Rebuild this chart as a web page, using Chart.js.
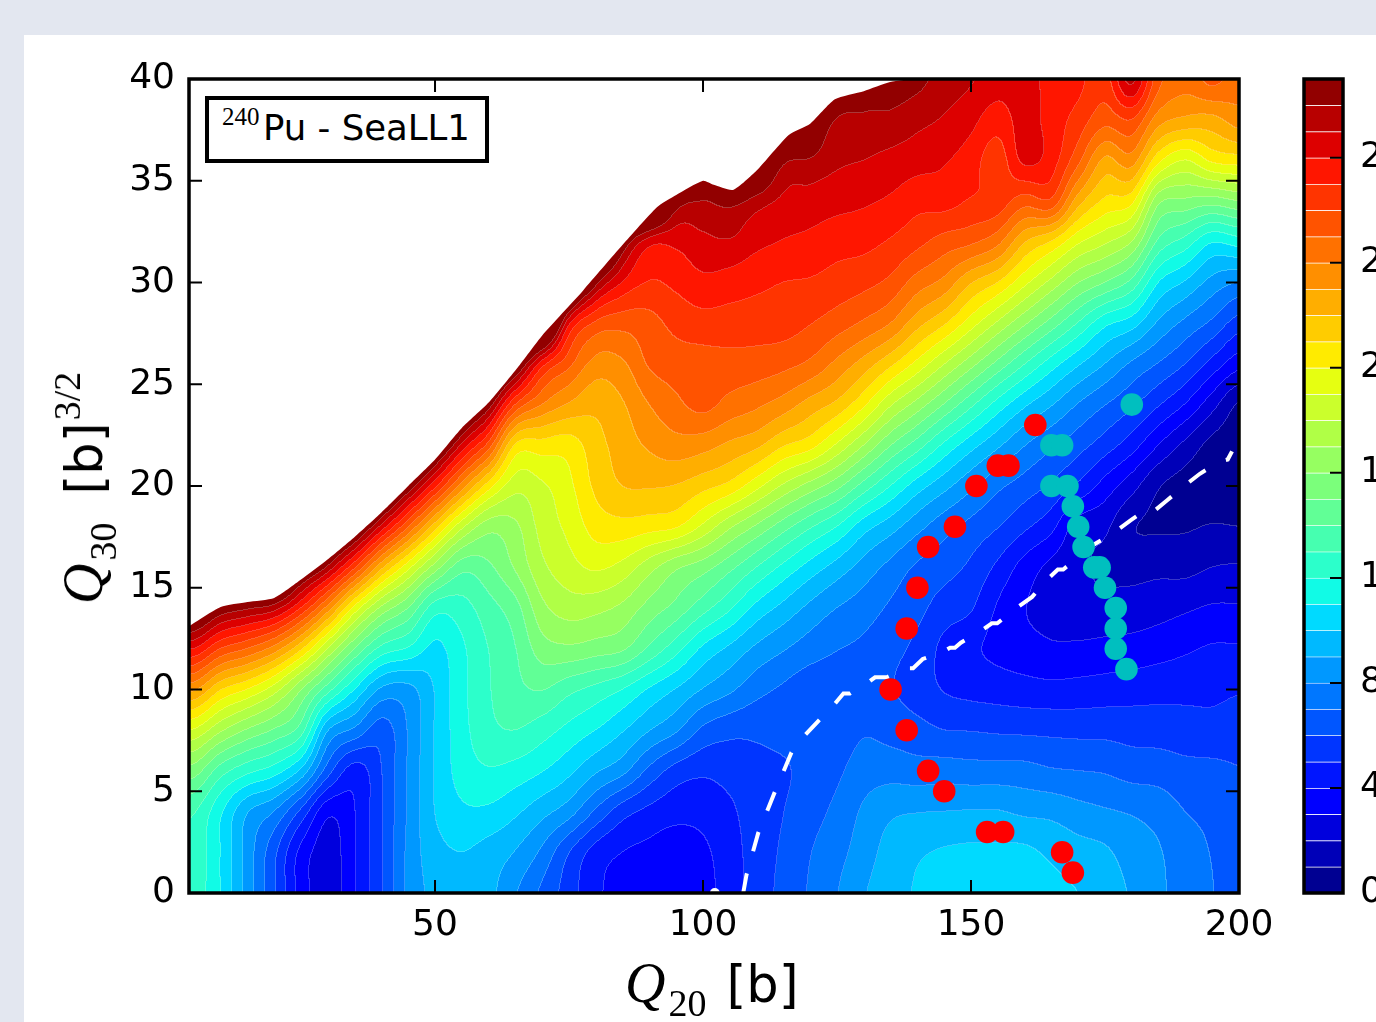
<!DOCTYPE html>
<html>
<head>
<meta charset="utf-8">
<title>240Pu - SeaLL1</title>
<script src="https://cdn.jsdelivr.net/npm/chart.js@4"></script>
<style>
  html, body { margin: 0; padding: 0; width: 1376px; height: 1022px; overflow: hidden; background: #e3e7f0; }
  #panel { position: absolute; left: 24px; top: 35px; right: 0; bottom: 0; background: #fff; }
  canvas { position: absolute; top: 0; }
  #main { left: 0; }
  #bar { left: 1290px; }
  .label { position: absolute; white-space: nowrap; color: #000; font-family: "DejaVu Sans"; line-height: 1; }
  .math { font-family: "Liberation Serif"; }
  .q { font-style: italic; font-size: 56px; }
  .sub { font-size: 38px; position: relative; top: 14px; margin-left: 3px; margin-right: 20px; }
  .sup { font-size: 38px; position: relative; top: -22px; margin-left: 2px; }
  #xlabel { left: 625px; top: 955px; font-size: 51px; }
  #ylabel { left: 83px; top: 488px; font-size: 51px; transform: translate(-50%, -50%) rotate(-90deg); }
  #ylabel .sub { margin-right: 28px; }
  #tag { left: 205px; top: 96px; width: 276px; height: 59px; border: 4px solid #000; background: #fff; }
  #tag .txt { position: absolute; left: 54px; top: 10px; font-size: 35.5px; }
  #tag .mass { position: absolute; left: 13px; top: 4px; font-size: 25px; }
</style>
</head>
<body>
<div id="panel"></div>
<canvas id="main" width="1376" height="1022"></canvas>
<canvas id="bar" width="200" height="1022"></canvas>
<div class="label" id="tag"><span class="mass math">240</span><span class="txt">Pu - SeaLL1</span></div>
<div class="label" id="xlabel"><span class="math q">Q</span><span class="math sub">20</span>[b]</div>
<div class="label" id="ylabel"><span class="math q">Q</span><span class="math sub">30</span>[b]<span class="math sup">3/2</span></div>
<script>
const xTicks = [50, 100, 150, 200];
const yTicks = [0, 5, 10, 15, 20, 25, 30, 35, 40];
const barTicks = [0, 4, 8, 12, 16, 20, 24, 28];

// energy, one row per Q20 (5..200), values at Q30 = 0,2,...,40
const q20Grid = [5,10,15,20,25,30,35,40,45,50,55,60,65,70,75,80,85,90,95,100,105,110,115,120,125,130,135,140,145,150,155,160,165,170,175,180,185,190,195,200];
const q30Grid = [0,2,4,6,8,10,12,14,16,18,20,22,24,26,28,30,32,34,36,38,40];
const energy = [
  [12.6,12.7,13.1,15.5,18.9,23.2,28,33,39,44,44,44,44,44,44,44,44,44,44,44,44],
  [11,11,11.2,13.5,17.2,21.1,26,31,37,44,44,44,44,44,44,44,44,44,44,44,44],
  [8.6,8.6,9.1,12.3,15.9,20,25,30.2,36,44,44,44,44,44,44,44,44,44,44,44,44],
  [6.2,6.3,8,11.5,14.9,18.5,23.6,29.5,36,44,44,44,44,44,44,44,44,44,44,44,44],
  [3.6,3.75,5.8,9.8,13.5,16.1,21.2,27,33,44,44,44,44,44,44,44,44,44,44,44,44],
  [2.4,2.5,3.3,6.5,9.1,13.45,18,23.6,29.8,36,44,44,44,44,44,44,44,44,44,44,44],
  [3.9,3.9,3.95,4.55,7.8,11,15,19.7,26.2,32.6,39,44,44,44,44,44,44,44,44,44,44],
  [5.9,5.9,5.9,5.95,6.5,8.85,12.7,16.8,22.3,28.7,35.2,44,44,44,44,44,44,44,44,44,44],
  [8.2,8.2,8.1,8.1,8.05,8.7,11.9,15,19.35,25.1,31,37,44,44,44,44,44,44,44,44,44],
  [9.3,9.6,10,10.05,10.05,10.05,10.75,12.5,16.55,21.5,27.3,33,40,44,44,44,44,44,44,44,44],
  [9.7,10,10.8,11.4,11.6,11.7,11.8,12.6,14.4,18.3,23.6,28.8,34,40,44,44,44,44,44,44,44],
  [9.3,9.6,10.8,11.9,12.7,12.9,13,13.6,14.8,16.45,20.5,25.6,30.7,36,44,44,44,44,44,44,44],
  [8.1,8.95,10.2,11.6,13,13.7,13.95,14.6,16.1,16.8,18.4,20.9,26,32,38,44,44,44,44,44,44],
  [6.8,7.8,9.35,11.05,12.45,14.05,15.5,16.7,17.75,18.35,18.85,20.6,24,27.5,36,44,44,44,44,44,44],
  [5.5,6.05,8.45,10.25,11.7,13.3,15.8,17.45,18.6,19.25,19.75,20.5,22.9,25.3,28.3,36,44,44,44,44,44],
  [4.2,4.6,6.85,9.15,11,12.7,15.5,17.3,19.15,20.4,21.2,21.6,22.3,23.65,25.85,30.5,37,44,44,44,44],
  [3.7,4,5.45,8.3,10.1,12,15.15,16.75,18.65,20.65,22,22.45,22.9,23.85,25.4,27.95,31.2,37,44,44,44],
  [3.5,3.75,4.75,6.75,9.05,10.9,13.8,15.6,17.4,20.4,22.1,23.15,24,25.1,25.65,26.95,28.5,36,44,44,44],
  [3.4,3.5,4.35,5.6,8.15,9.95,12.4,14.65,16.2,20.1,21.95,23.6,24.75,25.5,26.3,27.25,28.3,31,38,44,44],
  [3.6,3.8,4.35,5.2,6.8,8.95,10.8,13.4,15.45,18.8,21.35,23.4,25.3,25.6,26.6,27.75,28.75,30,33,40,44],
  [4.5,4.55,4.8,5.4,6.3,8.2,9.8,12.15,14.3,17.2,20.7,22.8,24.65,25.65,26.55,27.55,28.9,30.5,36,40,44],
  [5.4,5.45,5.55,5.75,6.2,7.35,8.8,10.7,13,15.85,19.35,22.25,24.2,25.55,26.5,27.25,28.3,29.6,34,40,44],
  [6.3,6.15,5.98,5.9,6.3,6.85,8.1,9.7,11.75,14.45,17.85,21.1,23.55,25.3,26.45,27,27.95,28.8,30.4,36,40],
  [7.1,6.95,6.6,6.3,6.3,6.4,7.5,8.75,10.6,13.15,16.6,20.4,22.6,24.8,26.05,26.9,27.75,28.6,29.9,33,40],
  [7.95,7.65,7.25,6.8,6.4,6.4,7.05,8,9.6,12,15.35,18.85,21.75,23.75,25.5,26.6,27.4,28.35,29.2,29.9,34],
  [8.9,8.5,8.15,7.5,6.9,6.65,6.8,7.5,8.6,10.45,13.6,17,20.2,22.6,24.85,26.3,27.3,28.15,29,29.8,31],
  [9.6,9.4,8.8,7.6,6.65,6.1,6.3,6.85,7.7,9.45,12,15.05,18.15,21.25,24,25.75,26.9,27.85,28.7,29.75,30.7],
  [10.1,9.85,8.95,7.45,6.35,5.55,5.75,6.3,6.85,8.35,10.5,13.5,16.6,19.7,22.4,24.55,26.3,27.35,28.4,29.3,30.3],
  [10.5,10.1,9,7.5,6,4.95,4.75,5.55,6.4,7.4,9.35,11.8,14.95,18.05,21.15,23.7,25.6,27.4,28.1,28.9,29.6],
  [10.6,10.2,9.05,7.4,5.95,4.7,4.2,5.1,5.8,6.7,8.25,10.4,13.25,16.4,19.5,22.1,25.2,26.9,27.5,28.3,29.1],
  [10.6,10.2,9.05,7.4,5.85,4.55,3.75,3.9,4.8,6.05,7.25,9.2,11.6,14.7,17.85,21,24.3,26.6,26.5,27.5,28.5],
  [10.55,10.2,8.8,7.35,5.8,4.4,3.4,3.05,3.6,5.2,6.55,8.05,10.2,13.05,16.2,19.3,22.1,25.5,28.2,28.4,28.4],
  [10.3,9.8,8.7,7.1,5.75,4.3,3.15,2.7,2.75,4.3,5.85,7.2,9.1,11.5,14.6,17.7,20.95,25.8,27.5,27.6,27.7],
  [10,9.4,8.35,7,5.7,4.35,3.2,2.3,2.2,2.55,4.85,6.4,7.95,10.15,12.95,16.05,19.2,22.5,25.3,26.6,27.3],
  [9.5,9.15,8.1,6.9,5.7,4.45,3.3,2.35,1.85,2.2,3.6,5.5,7.05,9,11.3,15,18.2,20.8,22.8,25.4,26.5],
  [8.9,8.55,7.9,6.6,5.6,4.55,3.4,2.4,1.7,1.1,2.4,4.45,6.2,7.85,10.5,13.7,17,20.3,23.5,26,29.3],
  [8.2,8.1,7.6,6.55,5.55,4.65,3.6,2.6,1.75,.9,1.1,3,5.1,6.95,8.85,11,13.8,16.3,20.3,23.5,25.4],
  [7.6,7.4,7,6.3,5.45,4.7,3.85,2.85,1.7,.9,.6,1.75,3.95,6,7.75,9.9,12.6,15.8,19,22.8,24.4],
  [7.05,6.95,6.75,6.25,5.35,4.75,4.1,3.1,2,1.05,.5,.7,2.4,4.65,6.8,8.65,11.1,15.5,20.2,22.7,25.3],
  [6.4,6.35,6.3,6.05,5.5,4.9,4.1,3.1,2.1,1,.7,.5,.9,3.4,5.55,8,11.5,16,20.5,23.5,24.4]
];

// upper edge of the calculated region
const edgeX = [4.1,10,15,20,25,30,35,40,45,50,55,60,65.8,70,77.6,85,91.4,95,100,102,105.6,110,116,120,124.6,130,134.9,140,200];
const edgeY = [13.1,14.05,14.3,14.5,15.4,16.4,17.5,18.7,20,21.3,22.85,24.1,25.95,27.4,29.6,31.85,33.7,34.3,35,34.8,34.55,35.5,37.25,37.8,39,39.4,39.85,40,40];

// dashed least-energy path
const pathX = [107.5,108.1,110.3,113.3,116.5,119,121.5,124.6,126.2,127.4,130.8,132.1,134.3,138,139.2,141,144.8,146.1,147,148.1,151.7,153.9,154.9,158.2,161.4,164.2,166.2,167.2,172.8,176.9,179.7,183,184.3,186.6,190,192.7,196.4,197.9,198.7];
const pathY = [0,.88,2.95,4.9,6.9,7.75,8.45,9.3,9.8,9.8,10.35,10.6,10.6,11.05,11.05,11.5,11.85,12.05,12.05,12.3,12.85,13.25,13.25,13.95,14.55,15.4,15.9,15.9,17.1,17.75,18.3,18.9,18.8,19.3,20.05,20.6,21.2,21.3,21.7];

const redX = [162,155,157,151,147,142,140,138,135,138,142,145,153,156,167,169];
const redY = [23,21,21,20,18,17,15,13,10,8,6,5,3,3,2,1];
const tealX = [180,165,167,165,168,169,170,171,173,174,175,177,177,177,179];
const tealY = [24,22,22,20,20,19,18,17,16,16,15,14,13,12,11];
const pathStartX = [102.2];
const pathStartY = [0];

const levelCount = 31;

function jet(t) {
  const ramp = (pts) => {
    for (let i = 1; i < pts.length; i++) {
      if (t <= pts[i][0]) {
        const a = pts[i - 1], b = pts[i];
        return a[1] + (b[1] - a[1]) * (t - a[0]) / (b[0] - a[0]);
      }
    }
    return pts[pts.length - 1][1];
  };
  return [
    ramp([[0,0],[.35,0],[.66,1],[.89,1],[1,.5]]),
    ramp([[0,0],[.125,0],[.375,1],[.64,1],[.91,0],[1,0]]),
    ramp([[0,.5],[.11,1],[.34,1],[.65,0],[1,0]])
  ].map((v) => Math.round(v * 255));
}
const bandColors = Array.from({ length: levelCount }, (_, i) => jet((i + 0.5) / levelCount));

function catmull(a, b, c, d, t) {
  return b + 0.5 * t * (c - a + t * (2 * a - 5 * b + 4 * c - d + t * (3 * (b - c) + d - a)));
}

function energyAt(x, y) {
  const u = (x - q20Grid[0]) / (q20Grid[1] - q20Grid[0]);
  const v = (y - q30Grid[0]) / (q30Grid[1] - q30Grid[0]);
  const nx = q20Grid.length, ny = q30Grid.length;
  const i = Math.max(0, Math.min(nx - 2, Math.floor(u)));
  const j = Math.max(0, Math.min(ny - 2, Math.floor(v)));
  const tx = u - i, ty = v - j;
  const col = [];
  for (let k = -1; k <= 2; k++) {
    const c = energy[Math.max(0, Math.min(nx - 1, i + k))];
    col.push(catmull(c[Math.max(0, j - 1)], c[j], c[j + 1], c[Math.min(ny - 1, j + 2)], ty));
  }
  return catmull(col[0], col[1], col[2], col[3], tx);
}

// filled contours: every pixel of the plot goes through the scales to find its band
const contourPlugin = {
  id: "contours",
  beforeDatasetsDraw(chart) {
    const { ctx, chartArea: a, scales } = chart;
    const w = Math.round(a.right - a.left), h = Math.round(a.bottom - a.top);
    const off = document.createElement("canvas");
    off.width = w; off.height = h;
    const octx = off.getContext("2d");
    const img = octx.createImageData(w, h);
    const bands = new Int8Array(w * h);
    for (let py = 0; py < h; py++) {
      const y = scales.y.getValueForPixel(a.top + py + 0.5);
      for (let px = 0; px < w; px++) {
        const x = scales.x.getValueForPixel(a.left + px + 0.5);
        bands[py * w + px] = Math.max(0, Math.min(levelCount - 1, Math.floor(energyAt(x, y))));
      }
    }
    for (let py = 0; py < h; py++) {
      for (let px = 0; px < w; px++) {
        const b = bands[py * w + px];
        const edge = (px < w - 1 && bands[py * w + px + 1] !== b) || (py < h - 1 && bands[(py + 1) * w + px] !== b);
        const c = bandColors[b], o = (py * w + px) * 4;
        for (let k = 0; k < 3; k++) img.data[o + k] = edge ? c[k] + (255 - c[k]) * 0.22 : c[k];
        img.data[o + 3] = 255;
      }
    }
    octx.putImageData(img, 0, 0);
    ctx.save();
    ctx.filter = "blur(0.5px)";
    ctx.drawImage(off, a.left, a.top);
    ctx.restore();
  }
};

const framePlugin = {
  id: "frame",
  afterDraw(chart, args, opts) {
    const { ctx, chartArea: a, scales } = chart;
    ctx.save();
    ctx.strokeStyle = "#000";
    ctx.lineWidth = 2;
    ctx.beginPath();
    scales.y.ticks.forEach((t) => {
      const p = scales.y.getPixelForValue(t.value);
      if (opts.leftTicks) { ctx.moveTo(a.left, p); ctx.lineTo(a.left + 13, p); }
      ctx.moveTo(a.right, p); ctx.lineTo(a.right - 13, p);
    });
    if (opts.xTicks) {
      scales.x.ticks.forEach((t) => {
        const p = scales.x.getPixelForValue(t.value);
        ctx.moveTo(p, a.top); ctx.lineTo(p, a.top + 13);
        ctx.moveTo(p, a.bottom); ctx.lineTo(p, a.bottom - 13);
      });
    }
    ctx.stroke();
    ctx.lineWidth = 3.5;
    ctx.strokeRect(a.left, a.top, a.right - a.left, a.bottom - a.top);
    ctx.restore();
  }
};

const toPoints = (xs, ys) => xs.map((x, i) => ({ x, y: ys[i] }));
const tickFont = { family: "DejaVu Sans", size: 36 };

new Chart(document.getElementById("main"), {
  type: "scatter",
  data: {
    datasets: [
      { data: toPoints(tealX, tealY), pointRadius: 11.3, pointBackgroundColor: "#00bfbf", pointBorderWidth: 0, order: 1 },
      { data: toPoints(redX, redY), pointRadius: 11.3, pointBackgroundColor: "#ff0000", pointBorderWidth: 0, order: 2 },
      { data: toPoints(pathX, pathY), showLine: true, borderColor: "#fff", borderWidth: 4, borderDash: [20, 23], pointRadius: 0, order: 3 },
      { data: toPoints(pathStartX, pathStartY), pointRadius: 5, pointBackgroundColor: "#fff", pointBorderWidth: 0, order: 4 },
      { data: toPoints(edgeX, edgeY), showLine: true, borderWidth: 0, tension: 0.2, pointRadius: 0, fill: "end", backgroundColor: "#fff", order: 5 }
    ]
  },
  options: {
    responsive: false,
    animation: false,
    layout: { padding: { top: 79, right: 137 } },
    plugins: { legend: { display: false }, tooltip: { enabled: false }, frame: { leftTicks: true, xTicks: true } },
    scales: {
      x: {
        type: "linear", min: 4.1, max: 200,
        afterBuildTicks: (s) => { s.ticks = xTicks.map((value) => ({ value })); },
        afterFit: (s) => { s.height = 129; },
        grid: { display: false },
        border: { display: false },
        ticks: { color: "#000", font: tickFont, padding: 3, maxRotation: 0, autoSkip: false }
      },
      y: {
        type: "linear", min: 0, max: 40,
        afterBuildTicks: (s) => { s.ticks = yTicks.map((value) => ({ value })); },
        afterFit: (s) => { s.width = 189; },
        grid: { display: false },
        border: { display: false },
        ticks: { color: "#000", font: tickFont, padding: 6, autoSkip: false }
      }
    }
  },
  plugins: [contourPlugin, framePlugin]
});

new Chart(document.getElementById("bar"), {
  type: "bar",
  data: {
    labels: [""],
    datasets: bandColors.map((c) => ({
      data: [1],
      backgroundColor: `rgb(${c.join(",")})`,
      borderColor: "rgba(255,255,255,0.2)",
      borderWidth: { top: 1 },
      borderSkipped: false,
      barPercentage: 1,
      categoryPercentage: 1,
      stack: "bands"
    }))
  },
  options: {
    responsive: false,
    animation: false,
    layout: { padding: { left: 14, top: 79, bottom: 129 } },
    plugins: { legend: { display: false }, tooltip: { enabled: false }, frame: { leftTicks: false, xTicks: false } },
    scales: {
      x: { display: false, stacked: true },
      y: {
        type: "linear", position: "right", min: 0, max: levelCount, stacked: true,
        afterBuildTicks: (s) => { s.ticks = barTicks.map((value) => ({ value })); },
        afterFit: (s) => { s.width = 147; },
        grid: { display: false },
        border: { display: false },
        ticks: { color: "#000", font: tickFont, padding: 9, autoSkip: false }
      }
    }
  },
  plugins: [framePlugin]
});
</script>
</body>
</html>
